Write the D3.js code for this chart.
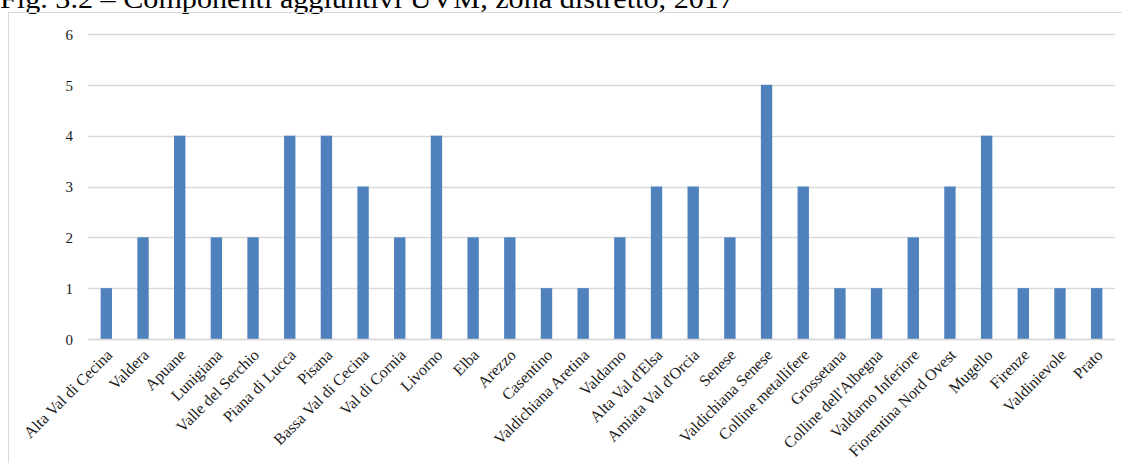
<!DOCTYPE html>
<html>
<head>
<meta charset="utf-8">
<script src="https://cdn.jsdelivr.net/npm/d3@7"></script>
<style>
  html, body { margin: 0; padding: 0; background: #fff; overflow: hidden; }
  svg { display: block; }
</style>
</head>
<body>
<svg id="chart" width="1122" height="463"></svg>
<script>
// Zone distretto and number of additional UVM members, 2017
const zones = [
  "Alta Val di Cecina", "Valdera", "Apuane", "Lunigiana", "Valle del Serchio",
  "Piana di Lucca", "Pisana", "Bassa Val di Cecina", "Val di Cornia", "Livorno",
  "Elba", "Arezzo", "Casentino", "Valdichiana Aretina", "Valdarno",
  "Alta Val  d'Elsa", "Amiata Val  d'Orcia", "Senese", "Valdichiana Senese",
  "Colline metallifere", "Grossetana", "Colline dell'Albegna", "Valdarno  Inferiore",
  "Fiorentina Nord Ovest", "Mugello", "Firenze", "Valdinievole", "Prato"
];
const components = [1, 2, 4, 2, 2, 4, 4, 3, 2, 4, 2, 2, 1, 1, 2, 3, 3, 2, 5, 3, 1, 1, 2, 3, 4, 1, 1, 1];
const yTicks = [0, 1, 2, 3, 4, 5, 6];
const titleText = "Fig. 3.2 \u2013 Componenti aggiuntivi UVM, zona distretto, 2017";

const svg = d3.select("#chart");
const serif = "'Liberation Serif', 'DejaVu Serif', serif";

// Caption above the chart frame
svg.append("text")
  .attr("x", 0)
  .attr("y", 8)
  .attr("font-family", serif)
  .attr("font-size", 27)
  .attr("fill", "#000")
  .attr("textLength", 734)
  .attr("lengthAdjust", "spacingAndGlyphs")
  .text(titleText);

// Chart frame
svg.append("rect")
  .attr("x", 8.5).attr("y", 12.5)
  .attr("width", 1140).attr("height", 480)
  .attr("fill", "none")
  .attr("stroke", "#d9d9d9")
  .attr("stroke-width", 1);

const plot = { left: 88, right: 1115, top: 34, bottom: 339 };

const x = d3.scaleBand()
  .domain(zones)
  .range([plot.left, plot.right])
  .paddingInner(0.69)
  .paddingOuter(0.345);

const y = d3.scaleLinear()
  .domain([0, 6])
  .range([plot.bottom, plot.top]);

// Horizontal gridlines
svg.append("g")
  .selectAll("line")
  .data(yTicks)
  .join("line")
  .attr("x1", plot.left).attr("x2", plot.right)
  .attr("y1", d => Math.round(y(d)) + 0.5)
  .attr("y2", d => Math.round(y(d)) + 0.5)
  .attr("stroke", "#d9d9d9")
  .attr("stroke-width", 1.3);

// Y axis labels
const yAxis = svg.append("g")
  .attr("transform", `translate(${plot.left - 15},0)`)
  .call(d3.axisLeft(y).tickValues(yTicks).tickSize(0).tickPadding(0).tickFormat(d3.format("d")));
yAxis.select(".domain").remove();
yAxis.selectAll("text")
  .attr("font-family", serif)
  .attr("font-size", 15)
  .attr("fill", "#1a1a1a")
  .attr("dy", "0.35em");

// Bars
svg.append("g")
  .selectAll("rect")
  .data(zones.map((z, i) => ({ zone: z, value: components[i] })))
  .join("rect")
  .attr("x", d => x(d.zone))
  .attr("y", d => y(d.value))
  .attr("width", x.bandwidth())
  .attr("height", d => y(0) - y(d.value))
  .attr("fill", "#4f81bd");

// Baseline redrawn over bar bottoms
svg.append("line")
  .attr("x1", plot.left).attr("x2", plot.right)
  .attr("y1", Math.round(y(0)) + 0.5).attr("y2", Math.round(y(0)) + 0.5)
  .attr("stroke", "#d9d9d9")
  .attr("stroke-width", 1.3);

// Rotated category labels
const xAxis = svg.append("g")
  .attr("transform", `translate(0,${plot.bottom})`)
  .call(d3.axisBottom(x).tickSize(0).tickPadding(0));
xAxis.select(".domain").remove();
xAxis.selectAll("text")
  .attr("font-family", serif)
  .attr("font-size", 16)
  .attr("fill", "#1a1a1a")
  .attr("text-anchor", "end")
  .attr("dy", null)
  .attr("y", 0)
  .attr("transform", "translate(7,17) rotate(-45)");
</script>
</body>
</html>
